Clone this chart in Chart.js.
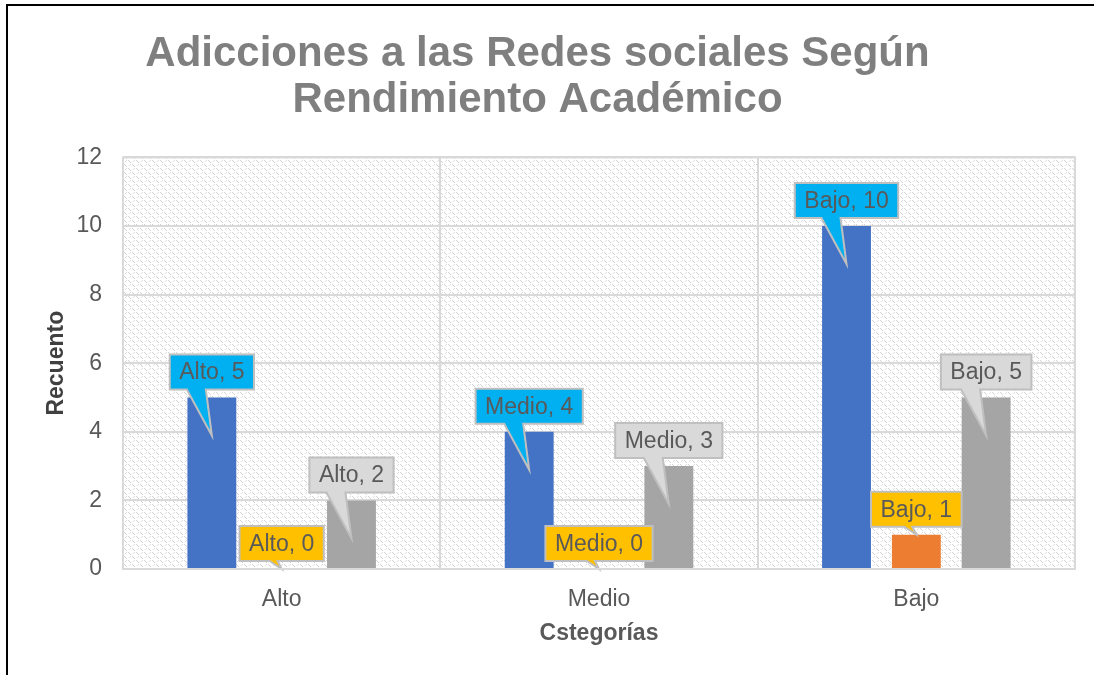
<!DOCTYPE html>
<html>
<head>
<meta charset="utf-8">
<script src="https://cdn.jsdelivr.net/npm/chart.js@4"></script>
<style>
  html, body { margin: 0; padding: 0; background: #fff; overflow: hidden; }
  #marco { position: absolute; left: 6px; top: 4px; width: 1300px; height: 900px; border: 2px solid #000; }
  #caja { position: absolute; left: 0; top: 0; width: 1094px; height: 675px; }
</style>
</head>
<body>
<div id="marco"></div>
<div id="caja"><canvas id="grafico"></canvas></div>
<script>
const categorias = ["Alto", "Medio", "Bajo"];
const serieAzul = [5, 4, 10];
const serieNaranja = [0, 0, 1];
const serieGris = [2, 3, 5];
const ticksY = [0, 2, 4, 6, 8, 10, 12];

const coloresBarra = ["#4472C4", "#ED7D31", "#A5A5A5"];
const coloresEtiqueta = ["#00B0F0", "#FFC000", "#D9D9D9"];

// textura de fondo del area de trazado
function crearTrama(ctx) {
  const c = document.createElement("canvas");
  c.width = 8; c.height = 8;
  const g = c.getContext("2d");
  g.fillStyle = "#ffffff";
  g.fillRect(0, 0, 8, 8);
  g.fillStyle = "#d2d2d2";
  g.fillRect(0, 0, 1, 1); g.fillRect(1, 1, 1, 1); g.fillRect(2, 2, 1, 1);
  g.fillRect(4, 4, 1, 1); g.fillRect(5, 5, 1, 1); g.fillRect(6, 6, 1, 1);
  g.fillStyle = "#dedede";
  g.fillRect(5, 1, 1, 1); g.fillRect(6, 0, 1, 1); g.fillRect(1, 5, 1, 1); g.fillRect(2, 4, 1, 1);
  return ctx.createPattern(c, "repeat");
}

const fondoArea = {
  id: "fondoArea",
  beforeDraw(chart) {
    const { ctx, chartArea: a } = chart;
    ctx.save();
    ctx.fillStyle = crearTrama(ctx);
    ctx.fillRect(a.left, a.top, a.width, a.height);
    ctx.restore();
  },
  afterDraw(chart) {
    const { ctx, chartArea: a } = chart;
    ctx.save();
    ctx.strokeStyle = "#D9D9D9";
    ctx.lineWidth = 2;
    ctx.strokeRect(a.left, a.top, a.width, a.height);
    ctx.restore();
  }
};

// etiquetas tipo globo (llamada) sobre cada barra
const etiquetasGlobo = {
  id: "etiquetasGlobo",
  afterDatasetsDraw(chart) {
    const ctx = chart.ctx;
    ctx.save();
    ctx.font = "23px 'Liberation Sans', Arial, sans-serif";
    chart.data.datasets.forEach((ds, i) => {
      const meta = chart.getDatasetMeta(i);
      meta.data.forEach((el, j) => {
        const texto = categorias[j] + ", " + ds.data[j];
        const w = ctx.measureText(texto).width + 19;
        const h = 35;
        const cx = el.x;
        const abajo = el.y - 8;
        const arriba = abajo - h;
        const izq = cx - w / 2, der = cx + w / 2;
        const alto = el.base - el.y;
        let tipY, b1, b2;
        if (alto > 50) { tipY = el.y + 38; b1 = cx - 25; b2 = cx - 6; }
        else { tipY = el.y; b1 = cx - 12; b2 = cx - 4; }
        ctx.beginPath();
        ctx.moveTo(izq, arriba);
        ctx.lineTo(der, arriba);
        ctx.lineTo(der, abajo);
        ctx.lineTo(b2, abajo);
        ctx.lineTo(cx, tipY);
        ctx.lineTo(b1, abajo);
        ctx.lineTo(izq, abajo);
        ctx.closePath();
        ctx.fillStyle = coloresEtiqueta[i];
        ctx.fill();
        ctx.strokeStyle = "#BFBFBF";
        ctx.lineWidth = 2;
        ctx.stroke();
        ctx.fillStyle = "#595959";
        ctx.textAlign = "center";
        ctx.textBaseline = "middle";
        ctx.fillText(texto, cx, arriba + h / 2 + 1);
      });
    });
    ctx.restore();
  }
};

Chart.defaults.font.family = "'Liberation Sans', Arial, sans-serif";
Chart.defaults.color = "#595959";

new Chart(document.getElementById("grafico"), {
  type: "bar",
  data: {
    labels: categorias,
    datasets: [
      { label: "Serie 1", data: serieAzul, backgroundColor: coloresBarra[0] },
      { label: "Serie 2", data: serieNaranja, backgroundColor: coloresBarra[1] },
      { label: "Serie 3", data: serieGris, backgroundColor: coloresBarra[2] }
    ]
  },
  options: {
    responsive: true,
    maintainAspectRatio: false,
    animation: false,
    barPercentage: 0.7,
    categoryPercentage: 0.66,
    layout: { padding: { left: 0, right: 19, top: 0, bottom: 0 } },
    plugins: {
      legend: { display: false },
      tooltip: { enabled: false },
      title: {
        display: true,
        text: ["Adicciones a las Redes sociales Según", "Rendimiento Académico"],
        color: "#7F7F7F",
        font: { size: 42, weight: "bold", lineHeight: 1.1 },
        padding: { top: 31, bottom: 34 }
      }
    },
    scales: {
      x: {
        afterFit(scale) { scale.height = 106; },
        grid: { color: "#D9D9D9", lineWidth: 2, drawTicks: false },
        border: { color: "#D9D9D9", width: 2 },
        ticks: { font: { size: 23 }, color: "#595959", padding: 17 },
        title: {
          display: true,
          text: "Cstegorías",
          color: "#595959",
          font: { size: 23, weight: "bold" },
          padding: { top: 9, bottom: 28 }
        }
      },
      y: {
        min: 0,
        max: 12,
        afterBuildTicks(scale) { scale.ticks = ticksY.map(v => ({ value: v })); },
        afterFit(scale) { scale.width = 123; },
        grid: { color: "#D9D9D9", lineWidth: 2, drawTicks: false },
        border: { display: false },
        ticks: { font: { size: 23 }, color: "#595959", padding: 21 },
        title: {
          display: true,
          text: "Recuento",
          color: "#404040",
          font: { size: 23, weight: "bold" },
          padding: { top: 43, bottom: 0 }
        }
      }
    }
  },
  plugins: [fondoArea, etiquetasGlobo]
});
</script>
</body>
</html>
